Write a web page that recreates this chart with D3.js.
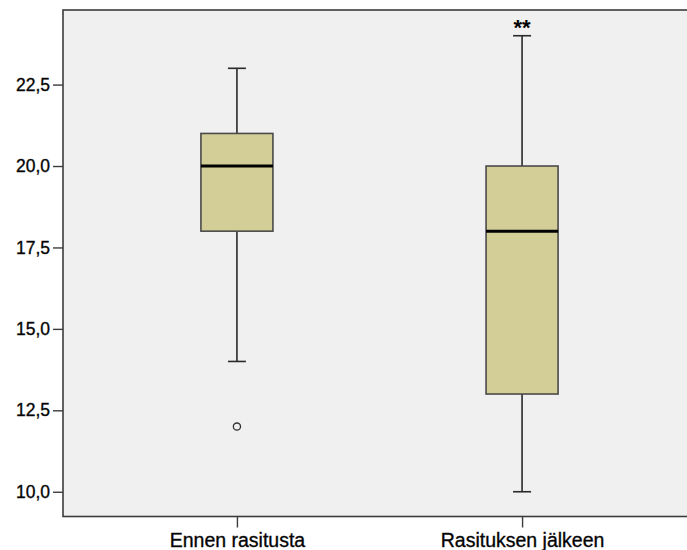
<!DOCTYPE html>
<html>
<head>
<meta charset="utf-8">
<script src="https://cdn.jsdelivr.net/npm/d3@7"></script>
<style>
  html, body { margin: 0; padding: 0; background: #ffffff; }
  svg { display: block; }
  text { font-family: "Liberation Sans", Arial, sans-serif; fill: #000; }
</style>
</head>
<body>
<svg id="chart" width="687" height="550"></svg>
<script>
// Groups and their five-number summaries
const groups = ["Ennen rasitusta", "Rasituksen jälkeen"];
const whiskerLow = [14, 10];
const quartile1 = [18, 13];
const medians = [20, 18];
const quartile3 = [21, 20];
const whiskerHigh = [23, 24];
// Individual outlying observations [group index, value]
const outliers = [[0, 12]];
// Text markers shown above a group's upper whisker
const markers = [[1, "**"]];
const yTicks = [10, 12.5, 15, 17.5, 20, 22.5];

const svg = d3.select("#chart");
const plotLeft = 63, plotTop = 10, plotBottom = 516.5, plotRight = 696;

const y = d3.scaleLinear().domain([9.24, 24.79]).range([plotBottom, plotTop]);
const x = d3.scalePoint().domain(groups).range([plotLeft, plotRight]).padding(0.61);
const boxW = 72, capW = 18;

// Plot background and frame
svg.append("rect")
  .attr("x", plotLeft).attr("y", plotTop)
  .attr("width", plotRight - plotLeft + 20).attr("height", plotBottom - plotTop)
  .attr("fill", "#f0f0f0")
  .attr("stroke", "#3c3c3c").attr("stroke-width", 1.6);

const fmt = v => d3.format(".1f")(v).replace(".", ",");

// Y axis
const yAxis = svg.append("g")
  .attr("transform", `translate(${plotLeft},0)`)
  .call(d3.axisLeft(y).tickValues(yTicks).tickSize(10).tickPadding(3).tickFormat(fmt));
yAxis.select(".domain").remove();
yAxis.selectAll(".tick line").attr("stroke", "#3c3c3c").attr("stroke-width", 1.4);
yAxis.selectAll(".tick text")
  .style("font-family", "'Liberation Sans', Arial, sans-serif")
  .style("font-size", "17.5px").attr("fill", "#111")
  .attr("stroke", "#111").attr("stroke-width", 0.35);

// X axis
const xAxis = svg.append("g")
  .attr("transform", `translate(0,${plotBottom})`)
  .call(d3.axisBottom(x).tickSize(11).tickPadding(6));
xAxis.select(".domain").remove();
xAxis.selectAll(".tick line").attr("stroke", "#3c3c3c").attr("stroke-width", 1.4);
xAxis.selectAll(".tick text")
  .style("font-family", "'Liberation Sans', Arial, sans-serif")
  .style("font-size", "19.5px").attr("fill", "#111")
  .attr("stroke", "#111").attr("stroke-width", 0.35);

// Boxes
const data = groups.map((g, i) => ({
  g, lo: whiskerLow[i], q1: quartile1[i], med: medians[i], q3: quartile3[i], hi: whiskerHigh[i]
}));

const box = svg.append("g").selectAll("g").data(data).join("g");

// Whiskers
box.append("line")
  .attr("x1", d => x(d.g)).attr("x2", d => x(d.g))
  .attr("y1", d => y(d.q3)).attr("y2", d => y(d.hi))
  .attr("stroke", "#2a2a2a").attr("stroke-width", 1.6);
box.append("line")
  .attr("x1", d => x(d.g)).attr("x2", d => x(d.g))
  .attr("y1", d => y(d.q1)).attr("y2", d => y(d.lo))
  .attr("stroke", "#2a2a2a").attr("stroke-width", 1.6);
// Whisker caps
box.append("line")
  .attr("x1", d => x(d.g) - capW / 2).attr("x2", d => x(d.g) + capW / 2)
  .attr("y1", d => y(d.hi)).attr("y2", d => y(d.hi))
  .attr("stroke", "#2a2a2a").attr("stroke-width", 1.6);
box.append("line")
  .attr("x1", d => x(d.g) - capW / 2).attr("x2", d => x(d.g) + capW / 2)
  .attr("y1", d => y(d.lo)).attr("y2", d => y(d.lo))
  .attr("stroke", "#2a2a2a").attr("stroke-width", 1.6);

// Interquartile box
box.append("rect")
  .attr("x", d => x(d.g) - boxW / 2).attr("width", boxW)
  .attr("y", d => y(d.q3)).attr("height", d => y(d.q1) - y(d.q3))
  .attr("fill", "#d3ce97")
  .attr("stroke", "#4a4a4a").attr("stroke-width", 1.6);

// Median
box.append("line")
  .attr("x1", d => x(d.g) - boxW / 2).attr("x2", d => x(d.g) + boxW / 2)
  .attr("y1", d => y(d.med)).attr("y2", d => y(d.med))
  .attr("stroke", "#000").attr("stroke-width", 3);

// Outliers
svg.append("g").selectAll("circle").data(outliers).join("circle")
  .attr("cx", d => x(groups[d[0]])).attr("cy", d => y(d[1]))
  .attr("r", 3.6)
  .attr("fill", "none").attr("stroke", "#333").attr("stroke-width", 1.3);

// Markers above the upper whisker
svg.append("g").selectAll("text").data(markers).join("text")
  .attr("x", d => x(groups[d[0]]))
  .attr("y", d => y(whiskerHigh[d[0]]) - 1)
  .attr("text-anchor", "middle")
  .style("font-size", "22px").style("font-weight", "bold")
  .attr("fill", "#222")
  .text(d => d[1]);
</script>
</body>
</html>
